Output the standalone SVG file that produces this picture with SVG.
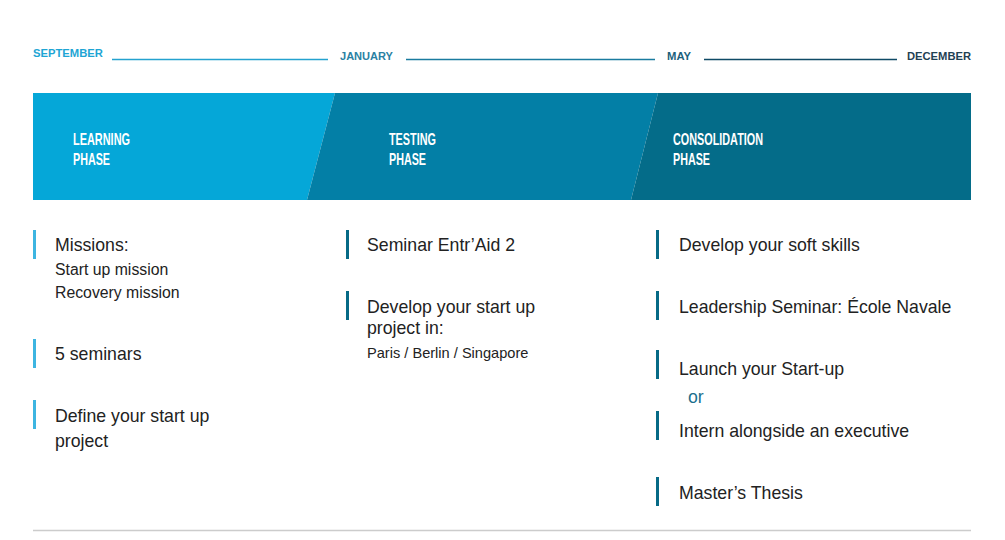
<svg xmlns="http://www.w3.org/2000/svg" width="1005" height="540" viewBox="0 0 1005 540">
  <style>
    .month { font-family: "Liberation Sans", Arial, sans-serif; font-size: 11.5px; font-weight: bold; }
    .phase { font-family: "Liberation Sans Narrow", "Liberation Sans", Arial, sans-serif; font-size: 17px; font-weight: bold; fill: #ffffff; }
    .item { font-family: "Liberation Sans", Arial, sans-serif; font-size: 17.7px; fill: #222222; }
    .sub { font-family: "Liberation Sans", Arial, sans-serif; font-size: 15.8px; fill: #222222; }
    .small { font-family: "Liberation Sans", Arial, sans-serif; font-size: 14.6px; fill: #222222; }
    .barL { fill: #3db5e1; }
    .barD { fill: #066a86; }
  </style>
  <rect width="1005" height="540" fill="#ffffff"/>

  <g id="connectors" fill="none" stroke-width="1.3">
    <line x1="112" y1="59.5" x2="328" y2="59.5" stroke="#24a2cf"/>
    <line x1="406" y1="59.5" x2="655" y2="59.5" stroke="#1a7b9f"/>
    <line x1="704" y1="59.5" x2="897" y2="59.5" stroke="#0f4a66"/>
    <line x1="33" y1="530.5" x2="971" y2="530.5" stroke="#cccccc" stroke-width="1.5"/>
  </g>

  <g id="months">
    <text class="month" x="33" y="57.3" fill="#1ea5d4" textLength="70" lengthAdjust="spacingAndGlyphs">SEPTEMBER</text>
    <text class="month" x="340" y="60.3" fill="#2a81a3" textLength="53" lengthAdjust="spacingAndGlyphs">JANUARY</text>
    <text class="month" x="667" y="60.3" fill="#1c5f7c" textLength="24" lengthAdjust="spacingAndGlyphs">MAY</text>
    <text class="month" x="907" y="60.3" fill="#1f4154" textLength="64" lengthAdjust="spacingAndGlyphs">DECEMBER</text>
  </g>

  <g id="phase-learning">
    <polygon points="33,93 335,93 307,200 33,200" fill="#05a7d8"/>
    <text class="phase" x="73" y="145.3" textLength="57" lengthAdjust="spacingAndGlyphs">LEARNING</text>
    <text class="phase" x="73" y="164.8" textLength="37" lengthAdjust="spacingAndGlyphs">PHASE</text>
  </g>
  <g id="phase-testing">
    <polygon points="335,93 658,93 631,200 307,200" fill="#037fa6"/>
    <text class="phase" x="389" y="145.3" textLength="47" lengthAdjust="spacingAndGlyphs">TESTING</text>
    <text class="phase" x="389" y="164.8" textLength="37" lengthAdjust="spacingAndGlyphs">PHASE</text>
  </g>
  <g id="phase-consolidation">
    <polygon points="658,93 971,93 971,200 631,200" fill="#046c89"/>
    <text class="phase" x="673" y="145.3" textLength="90" lengthAdjust="spacingAndGlyphs">CONSOLIDATION</text>
    <text class="phase" x="673" y="164.8" textLength="37" lengthAdjust="spacingAndGlyphs">PHASE</text>
  </g>

  <g id="item-missions">
    <rect class="barL" x="33" y="230" width="3" height="29"/>
    <text class="item" x="55" y="250.5">Missions:</text>
    <text class="sub" x="55" y="274.8">Start up mission</text>
    <text class="sub" x="55" y="298.3">Recovery mission</text>
  </g>
  <g id="item-seminars">
    <rect class="barL" x="33" y="339" width="3" height="29"/>
    <text class="item" x="55" y="360">5 seminars</text>
  </g>
  <g id="item-define">
    <rect class="barL" x="33" y="400" width="3" height="29"/>
    <text class="item" x="55" y="422">Define your start up</text>
    <text class="item" x="55" y="447">project</text>
  </g>

  <g id="item-entraid">
    <rect class="barD" x="346" y="230" width="3" height="29"/>
    <text class="item" x="367" y="250.5">Seminar Entr’Aid 2</text>
  </g>
  <g id="item-develop-project">
    <rect class="barD" x="346" y="291" width="3" height="29"/>
    <text class="item" x="367" y="312.5">Develop your start up</text>
    <text class="item" x="367" y="334">project in:</text>
    <text class="small" x="367" y="357.7">Paris / Berlin / Singapore</text>
  </g>

  <g id="item-soft-skills">
    <rect class="barD" x="656" y="230" width="3" height="29"/>
    <text class="item" x="679" y="250.5">Develop your soft skills</text>
  </g>
  <g id="item-leadership">
    <rect class="barD" x="656" y="291" width="3" height="29"/>
    <text class="item" x="679" y="312.5">Leadership Seminar: École Navale</text>
  </g>
  <g id="item-launch">
    <rect class="barD" x="656" y="350" width="3" height="29"/>
    <text class="item" x="679" y="374.5">Launch your Start-up</text>
  </g>
  <g id="or-label">
    <text class="item" x="688" y="402.5" style="fill:#1b6f8d">or</text>
  </g>
  <g id="item-intern">
    <rect class="barD" x="656" y="411" width="3" height="29"/>
    <text class="item" x="679" y="436.5">Intern alongside an executive</text>
  </g>
  <g id="item-thesis">
    <rect class="barD" x="656" y="477" width="3" height="29"/>
    <text class="item" x="679" y="498.5">Master’s Thesis</text>
  </g>
</svg>
